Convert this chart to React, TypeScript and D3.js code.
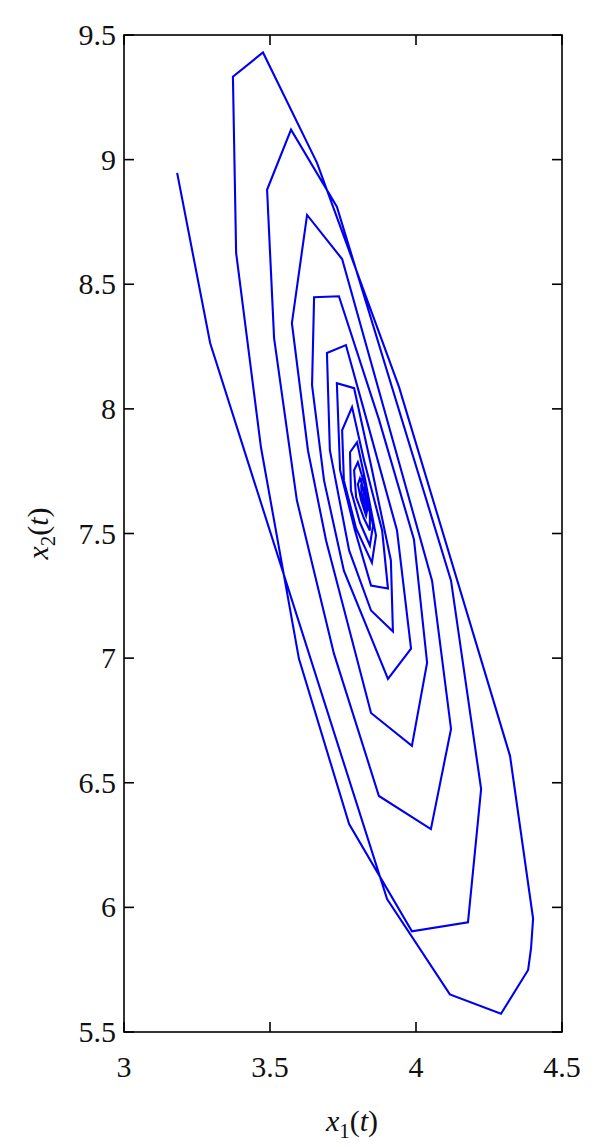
import React from "react";
import * as d3 from "d3";

// Trajectory (x1(t), x2(t)), in order
const x1Values: number[] = [
  3.182, 3.295, 3.901, 4.116, 4.291, 4.384, 4.394, 4.401, 4.322, 3.942, 3.661, 3.476, 3.373,
  3.384, 3.469, 3.599, 3.771, 3.986, 4.178, 4.223, 4.120, 3.729, 3.572, 3.490,
  3.514, 3.592, 3.719, 3.873, 4.051, 4.120, 4.055, 3.747, 3.627, 3.575,
  3.630, 3.692, 3.846, 3.986, 4.038, 3.993, 3.873, 3.736, 3.651,
  3.644, 3.685, 3.753, 3.904, 3.983, 3.935, 3.822, 3.760, 3.695,
  3.705, 3.771, 3.846, 3.921, 3.914, 3.846, 3.788, 3.729,
  3.740, 3.791, 3.846, 3.904, 3.884, 3.822, 3.781, 3.747,
  3.753, 3.795, 3.849, 3.863, 3.825, 3.798, 3.774,
  3.777, 3.808, 3.842, 3.853, 3.825, 3.801, 3.788,
  3.795, 3.822, 3.842, 3.842, 3.822, 3.808, 3.801,
  3.812, 3.829, 3.836, 3.822, 3.812, 3.822, 3.832, 3.829,
  3.815, 3.812, 3.825, 3.829, 3.818, 3.822,
];
const x2Values: number[] = [
  8.947, 8.264, 6.033, 5.651, 5.573, 5.749, 5.836, 5.955, 6.608, 8.087, 8.987, 9.430, 9.333,
  8.626, 7.846, 6.998, 6.334, 5.904, 5.940, 6.475, 7.311, 8.811, 9.120, 8.879,
  8.284, 7.633, 7.018, 6.447, 6.314, 6.716, 7.311, 8.601, 8.778, 8.344,
  7.833, 7.472, 6.780, 6.648, 6.982, 7.476, 7.958, 8.452, 8.448,
  8.095, 7.713, 7.351, 6.917, 7.038, 7.512, 7.994, 8.256, 8.224,
  7.834, 7.432, 7.191, 7.107, 7.392, 7.774, 8.083, 8.103,
  7.754, 7.512, 7.291, 7.279, 7.512, 7.794, 8.007, 7.914,
  7.713, 7.520, 7.383, 7.492, 7.721, 7.866, 7.826,
  7.673, 7.544, 7.452, 7.532, 7.693, 7.786, 7.754,
  7.645, 7.560, 7.512, 7.584, 7.673, 7.721, 7.697,
  7.633, 7.572, 7.613, 7.665, 7.713, 7.733, 7.633, 7.585,
  7.641, 7.697, 7.673, 7.613, 7.649, 7.661,
];

const xTicks: number[] = [3, 3.5, 4, 4.5];
const yTicks: number[] = [5.5, 6, 6.5, 7, 7.5, 8, 8.5, 9, 9.5];
const xLabelTexts: string[] = ["3", "3.5", "4", "4.5"];
const yLabelTexts: string[] = ["5.5", "6", "6.5", "7", "7.5", "8", "8.5", "9", "9.5"];

export default function App() {
  const W = 600;
  const H = 1147;
  const left = 124;
  const right = 562;
  const top = 35;
  const bottom = 1032;

  const x = d3.scaleLinear().domain([3, 4.5]).range([left, right]);
  const y = d3.scaleLinear().domain([5.5, 9.5]).range([bottom, top]);

  const pts: [number, number][] = x1Values.map((v, i) => [v, x2Values[i]]);
  const line = d3
    .line<[number, number]>()
    .x((d) => x(d[0]))
    .y((d) => y(d[1]));

  const tickLen = 10;
  const font = "'Liberation Serif', 'Times New Roman', serif";

  return (
    <svg
      width={W}
      height={H}
      style={{ position: "absolute", left: 0, top: 0, background: "#fff" }}
    >
      <path d={line(pts) || ""} fill="none" stroke="#0000f0" strokeWidth={2.1} strokeLinejoin="miter" />
      {/* box */}
      <rect x={left} y={top} width={right - left} height={bottom - top} fill="none" stroke="#000" strokeWidth={1.6} />
      {/* x ticks */}
      {xTicks.map((t, i) => (
        <g key={"xt" + i}>
          <line x1={x(t)} x2={x(t)} y1={bottom} y2={bottom - tickLen} stroke="#000" strokeWidth={1.6} />
          <line x1={x(t)} x2={x(t)} y1={top} y2={top + tickLen} stroke="#000" strokeWidth={1.6} />
          <text x={x(t)} y={1077} textAnchor="middle" fontFamily={font} fontSize={30} fill="#111">
            {xLabelTexts[i]}
          </text>
        </g>
      ))}
      {/* y ticks */}
      {yTicks.map((t, i) => (
        <g key={"yt" + i}>
          <line x1={left} x2={left + tickLen} y1={y(t)} y2={y(t)} stroke="#000" strokeWidth={1.6} />
          <line x1={right} x2={right - tickLen} y1={y(t)} y2={y(t)} stroke="#000" strokeWidth={1.6} />
          <text x={116} y={y(t) + 10} textAnchor="end" fontFamily={font} fontSize={30} fill="#111">
            {yLabelTexts[i]}
          </text>
        </g>
      ))}
      {/* x label */}
      <text x={352} y={1131} textAnchor="middle" fontFamily={font} fontSize={30} fill="#111">
        <tspan fontStyle="italic">x</tspan>
        <tspan fontSize={21} dy={7}>1</tspan>
        <tspan dy={-7}>(</tspan>
        <tspan fontStyle="italic">t</tspan>
        <tspan>)</tspan>
      </text>
      {/* y label */}
      <text
        transform={`translate(48, ${(top + bottom) / 2}) rotate(-90)`}
        textAnchor="middle"
        fontFamily={font}
        fontSize={30}
        fill="#111"
      >
        <tspan fontStyle="italic">x</tspan>
        <tspan fontSize={21} dy={7}>2</tspan>
        <tspan dy={-7}>(</tspan>
        <tspan fontStyle="italic">t</tspan>
        <tspan>)</tspan>
      </text>
    </svg>
  );
}
